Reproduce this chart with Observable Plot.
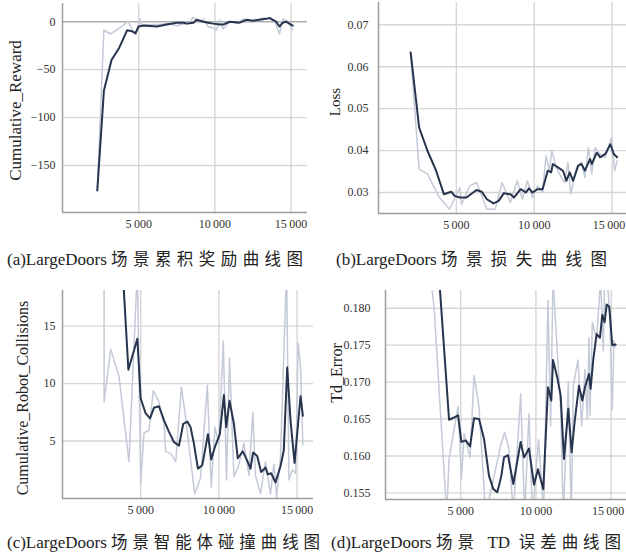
<!DOCTYPE html>
<html>
<head>
<meta charset="utf-8">
<script src="https://cdn.jsdelivr.net/npm/d3@7"></script>
<script src="https://cdn.jsdelivr.net/npm/@observablehq/plot@0.6"></script>
<style>
  html, body { margin: 0; padding: 0; background: #fff; }
  #root { position: relative; width: 626px; height: 559px; background: #fff; overflow: hidden; }
  .panel { position: absolute; }
  .cap { position: absolute; white-space: nowrap; line-height: 20px; color: #222; font-size: 17px; }
  .cap .lat { font-family: "Liberation Serif", "DejaVu Serif", serif; font-size: 17px; letter-spacing: 0; }
  .cap .cjk { font-family: "Noto Sans CJK SC", sans-serif; font-size: 16.5px; font-weight: 400; }
</style>
</head>
<body>
<div id="root"></div>
<script>
// ---------- data ----------
const xTicks = [5000, 10000, 15000];

// (a) Cumulative reward
const rewardRawStep = [2283, 2717, 3152, 3804, 4304, 4674, 4826, 5065, 5217, 5760, 6413, 6957, 7500, 7935, 8370, 8543, 9022, 9283, 9565, 9891, 10109, 10326, 10543, 10978, 11413, 11848, 12283, 12717, 13152, 13587, 13913, 14239, 14457, 14783, 15109];
const rewardRawValue = [-176, -8.7, -12.8, -5.9, 0.3, -11, -13.5, 2.8, -4.2, -3, -3, -1.7, -4.2, -2.4, -1.7, 4.5, 0.3, 2.8, -5.2, -6.6, -8.7, 1.7, -7.6, 0.3, -1.7, 2.8, 0.3, 1.7, 3.8, 2.8, 1, -12.8, 2.8, 0.3, -8.7];
const rewardSmoothStep = [2283, 2717, 3217, 3696, 4239, 4565, 4783, 5000, 5326, 6196, 6848, 7500, 7935, 8152, 8587, 8804, 9239, 9565, 9891, 10326, 10543, 10978, 11630, 12065, 12500, 12935, 13370, 13587, 13804, 14022, 14239, 14457, 14674, 14891, 15109];
const rewardSmoothValue = [-176, -72, -40, -28, -9, -10, -12, -5, -4, -5, -3, -1, -1, -2, -1, 2, 0, -1, -2, -3, -3, 0, -1, 2, 1, 2, 3, 4, 2, 0, -5, -1, 0, -2, -4];
const rewardTicks = [0, -50, -100, -150];

// (b) Loss
const lossRawStep = [2065, 2610, 3150, 3910, 4565, 5220, 5330, 5870, 6300, 6960, 7500, 7935, 8480, 8910, 9240, 9565, 9890, 10220, 10540, 10760, 10980, 11130, 11415, 11740, 11960, 12170, 12350, 12720, 13040, 13260, 13480, 13700, 13910, 14240, 14570, 14780, 14960, 15170, 15330];
const lossRawValue = [0.0630, 0.0356, 0.0344, 0.0288, 0.0260, 0.0312, 0.0272, 0.0316, 0.0324, 0.0260, 0.0260, 0.0324, 0.0276, 0.0328, 0.0284, 0.0328, 0.0288, 0.0316, 0.0300, 0.0388, 0.0352, 0.0400, 0.0360, 0.0336, 0.0324, 0.0372, 0.0296, 0.0360, 0.0372, 0.0336, 0.0407, 0.0344, 0.0407, 0.0391, 0.0384, 0.0407, 0.0431, 0.0352, 0.0376];
const lossSmoothStep = [2065, 2610, 3150, 3700, 4200, 4670, 4890, 5220, 5650, 6300, 6630, 6960, 7390, 7720, 8040, 8480, 8700, 9130, 9460, 9670, 9890, 10220, 10540, 10870, 11090, 11200, 11520, 11850, 12070, 12280, 12500, 12830, 13040, 13260, 13590, 13700, 14020, 14240, 14570, 14890, 15110, 15330];
const lossSmoothValue = [0.0634, 0.0455, 0.0399, 0.0352, 0.0296, 0.0302, 0.0292, 0.0288, 0.0288, 0.0306, 0.0302, 0.0284, 0.0274, 0.0280, 0.0298, 0.0296, 0.0288, 0.0308, 0.0300, 0.0310, 0.0300, 0.0308, 0.0308, 0.0352, 0.0348, 0.0368, 0.0360, 0.0352, 0.0328, 0.0348, 0.0328, 0.0364, 0.0368, 0.0352, 0.0380, 0.0368, 0.0395, 0.0384, 0.0392, 0.0415, 0.0392, 0.0384];
const lossTicks = [0.03, 0.04, 0.05, 0.06, 0.07];

// (c) Cumulative robot collisions
const collRawStep = [2660, 2660, 3084, 3615, 4250, 4787, 5000, 5210, 5530, 5810, 6170, 6490, 6600, 6920, 7240, 7600, 7880, 8450, 8830, 9260, 9510, 9750, 10000, 10280, 10490, 10680, 10960, 11250, 11600, 11920, 12170, 12340, 12660, 12980, 13300, 13520, 13690, 13940, 14330, 14480, 14690, 14900, 15070, 15220, 15370];
const collRawValue = [20, 8.4, 13.0, 10.6, 3.2, 20, 1.3, 5.7, 5.95, 9.4, 8.4, 6.5, 4.1, 3.9, 3.2, 9.7, 7.0, 0.4, 1.8, 9.85, 1.0, 6.2, 4.8, 13.7, 1.6, 12.2, 1.9, 2.8, 4.8, 2.0, 7.5, 2.0, 0.4, 3.2, 0.4, 3.0, 0.1, 3.6, 20, 1.6, 2.5, 2.2, 13.5, 11.5, 4.7];
const collSmoothStep = [3800, 4213, 4787, 5000, 5320, 5600, 5850, 6170, 6490, 6810, 7130, 7450, 7720, 7980, 8190, 8400, 8660, 8940, 9300, 9510, 9750, 10060, 10320, 10470, 10680, 10960, 11210, 11530, 11810, 12020, 12190, 12450, 12700, 12980, 13130, 13340, 13620, 13940, 14150, 14370, 14580, 14840, 15220, 15370];
const collSmoothValue = [21, 11.2, 13.9, 8.7, 7.4, 6.97, 7.9, 8.03, 6.8, 5.8, 4.9, 4.6, 6.5, 6.7, 6.2, 4.8, 2.6, 2.9, 5.6, 3.4, 4.5, 5.6, 9.0, 6.2, 8.5, 6.5, 3.5, 4.1, 3.3, 2.6, 4.0, 3.7, 2.3, 2.7, 2.1, 2.2, 1.4, 2.8, 4.2, 11.4, 6.8, 3.1, 8.9, 7.2];
const collTicks = [5, 10, 15];

// (d) TD error
const tdRawStep = [3009, 3230, 4071, 4225, 4823, 5046, 5223, 5622, 5885, 6217, 6660, 7655, 7921, 8209, 8497, 8984, 9250, 9538, 9760, 10180, 10510, 10800, 10978, 11133, 11643, 11820, 12152, 12350, 12483, 12793, 13039, 13260, 13415, 13525, 13592, 13747, 14035, 14300, 14477, 14566, 14743, 14900, 15075, 15186, 15296];
const tdRawValue = [0.1840, 0.1801, 0.1520, 0.1596, 0.1667, 0.1569, 0.1630, 0.1598, 0.1709, 0.1666, 0.1520, 0.1614, 0.1632, 0.1609, 0.1520, 0.1684, 0.1520, 0.1657, 0.1520, 0.1622, 0.1520, 0.1810, 0.1641, 0.1840, 0.1664, 0.1520, 0.1700, 0.1520, 0.1695, 0.1730, 0.1641, 0.1717, 0.1650, 0.1760, 0.1655, 0.1781, 0.1758, 0.1840, 0.1742, 0.1840, 0.1840, 0.1790, 0.1663, 0.1756, 0.1747];
const tdSmoothStep = [3500, 4225, 4557, 4823, 5046, 5334, 5622, 5885, 6217, 6549, 6881, 7168, 7434, 7700, 7877, 8143, 8497, 8984, 9206, 9538, 9870, 10136, 10490, 10800, 11023, 11133, 11420, 11643, 11864, 12152, 12373, 12572, 12860, 13083, 13260, 13525, 13636, 13813, 14035, 14256, 14411, 14566, 14699, 14876, 15075, 15296];
const tdSmoothValue = [0.1860, 0.1649, 0.1652, 0.1655, 0.1619, 0.1621, 0.1613, 0.1651, 0.1650, 0.1623, 0.1573, 0.1555, 0.1551, 0.1573, 0.1598, 0.1601, 0.1562, 0.1619, 0.1598, 0.1610, 0.1561, 0.1582, 0.1555, 0.1693, 0.1675, 0.1730, 0.1706, 0.1682, 0.1596, 0.1664, 0.1605, 0.1646, 0.1695, 0.1675, 0.1693, 0.1711, 0.1691, 0.1731, 0.1765, 0.1760, 0.1791, 0.1781, 0.1805, 0.1802, 0.1750, 0.1751];
const tdTicks = [0.155, 0.160, 0.165, 0.170, 0.175, 0.180];

const captions = [
  ["(a)LargeDoors ", "场景累积奖励曲线图"],
  ["(b)LargeDoors ", "场景损失曲线图"],
  ["(c)LargeDoors ", "场景智能体碰撞曲线图"],
  ["(d)LargeDoors ", "场景 TD 误差曲线图"]
];

// ---------- drawing ----------
const zip = (xs, ys) => xs.map((x, i) => ({x, y: ys[i]}));
const fmtX = d => d3.format(",")(d).replace(/,/g, "\u2009");
const root = document.getElementById("root");
const serif = "'Liberation Serif', 'DejaVu Serif', serif";

function panel(o) {
  const raw = zip(o.rawX, o.rawY);
  const smooth = zip(o.smX, o.smY);
  const marks = [
    Plot.ruleX(xTicks, {stroke: "#d6d6d6", strokeWidth: 1.4}),
    Plot.ruleY(o.yTicks, {stroke: o.zero ? (d => d === 0 ? "#b0b0b0" : "#d6d6d6") : "#d6d6d6", strokeWidth: 1.4}),
    Plot.line(raw, {x: "x", y: "y", stroke: "#c4cad7", strokeWidth: 1.5, clip: true}),
    Plot.line(smooth, {x: "x", y: "y", stroke: "#27344e", strokeWidth: 2, clip: true}),
    Plot.ruleX([0], {stroke: "#9c9c9c", strokeWidth: 1.5}),
    Plot.ruleY([o.yDomain[0]], {stroke: "#9c9c9c", strokeWidth: 1.5}),
    Plot.axisX({ticks: xTicks, tickFormat: fmtX, tickSize: 0, tickPadding: 7, label: null, fill: "#333", fontFamily: serif}),
    Plot.axisY({ticks: o.yTicks, tickFormat: o.yFmt, tickSize: 0, tickPadding: o.tickPad, label: null, fill: "#333", fontFamily: serif}),
    Plot.text([o.label], {frameAnchor: "left", rotate: -90, dx: o.ldx, dy: o.ldy, textAnchor: "middle", lineAnchor: "middle",
      fontSize: o.lsize, fill: "#222", fontFamily: serif, ariaLabel: "ylabel"})
  ];
  const svg = Plot.plot({
    width: o.w, height: o.h,
    marginLeft: o.ml, marginRight: o.mr, marginTop: o.mt, marginBottom: o.mb,
    style: {fontFamily: serif, fontSize: "12px", background: "transparent", color: "#333"},
    x: {domain: [0, o.xmax]},
    y: {domain: o.yDomain},
    marks
  });
  d3.select(svg).selectAll('g[aria-label="ylabel"] text')
    .attr("textLength", o.llen).attr("lengthAdjust", "spacingAndGlyphs");
  if (o.lastShift) {
    const t = d3.select(svg).selectAll('g[aria-label="x-axis tick label"] text').nodes();
    if (t.length) d3.select(t[t.length - 1]).attr("dx", o.lastShift);
  }
  const div = document.createElement("div");
  div.className = "panel";
  div.style.left = o.left + "px";
  div.style.top = o.top + "px";
  div.appendChild(svg);
  root.appendChild(div);
}

panel({left: 0, top: 0, w: 313, h: 240, ml: 62, mr: 6, mt: 3, mb: 28, xmax: 16080,
  yDomain: [-199, 19], yTicks: rewardTicks, yFmt: d3.format(""), tickPad: 7, zero: true,
  rawX: rewardRawStep, rawY: rewardRawValue, smX: rewardSmoothStep, smY: rewardSmoothValue,
  label: "Cumulative_Reward", ldx: -46.5, ldy: 2.5, lsize: 17, llen: 157});

panel({left: 313, top: 0, w: 313, h: 240, ml: 65, mr: 0, mt: 2, mb: 27, xmax: 15930,
  yDomain: [0.025, 0.0753], yTicks: lossTicks, yFmt: d3.format(".2f"), tickPad: 10, lastShift: -3,
  rawX: lossRawStep, rawY: lossRawValue, smX: lossSmoothStep, smY: lossSmoothValue,
  label: "Loss", ldx: -43, ldy: -6, lsize: 15, llen: 27});

panel({left: 0, top: 275, w: 313, h: 245, ml: 62, mr: 0, mt: 15, mb: 22, xmax: 16050,
  yDomain: [0, 18.1], yTicks: collTicks, yFmt: d3.format(""), tickPad: 7,
  rawX: collRawStep, rawY: collRawValue, smX: collSmoothStep, smY: collSmoothValue,
  label: "Cumulative_Robot_Collisions", ldx: -40, ldy: 3.5, lsize: 16, llen: 188});

panel({left: 313, top: 275, w: 313, h: 245, ml: 72, mr: 0, mt: 15, mb: 21, xmax: 16020,
  yDomain: [0.1541, 0.1824], yTicks: tdTicks, yFmt: d3.format(".3f"), tickPad: 15, lastShift: -3,
  rawX: tdRawStep, rawY: tdRawValue, smX: tdSmoothStep, smY: tdSmoothValue,
  label: "Td_Error", ldx: -49, ldy: -22, lsize: 16, llen: 62});

// caption boxes: [left, right, centre y]
const capBox = [[7, 303, 258], [336, 607, 258], [7, 320, 541], [331, 621, 541]];
captions.forEach(([lat, cjk], i) => {
  const [x0, x1, cy] = capBox[i];
  const d = document.createElement("div");
  d.className = "cap";
  d.style.left = x0 + "px";
  d.style.top = (cy - 10) + "px";
  const a = document.createElement("span"); a.className = "lat"; a.textContent = lat;
  d.appendChild(a);
  const b = document.createElement("span"); b.className = "cjk";
  const spaced = [];
  cjk.split(/([A-Za-z]+)/).forEach(part => {
    if (!part) return;
    const s = document.createElement("span");
    if (/^[A-Za-z]+$/.test(part)) { s.className = "lat"; }
    else spaced.push(s);
    s.textContent = part;
    b.appendChild(s);
  });
  d.appendChild(b);
  root.appendChild(d);
  const w = d.getBoundingClientRect().width;
  const n = spaced.reduce((k, s) => k + [...s.textContent].length, 0);
  const ls = Math.max(0, (x1 - x0 - w) / (n - 1));
  spaced.forEach(s => s.style.letterSpacing = ls.toFixed(2) + "px");
});
</script>
</body>
</html>
